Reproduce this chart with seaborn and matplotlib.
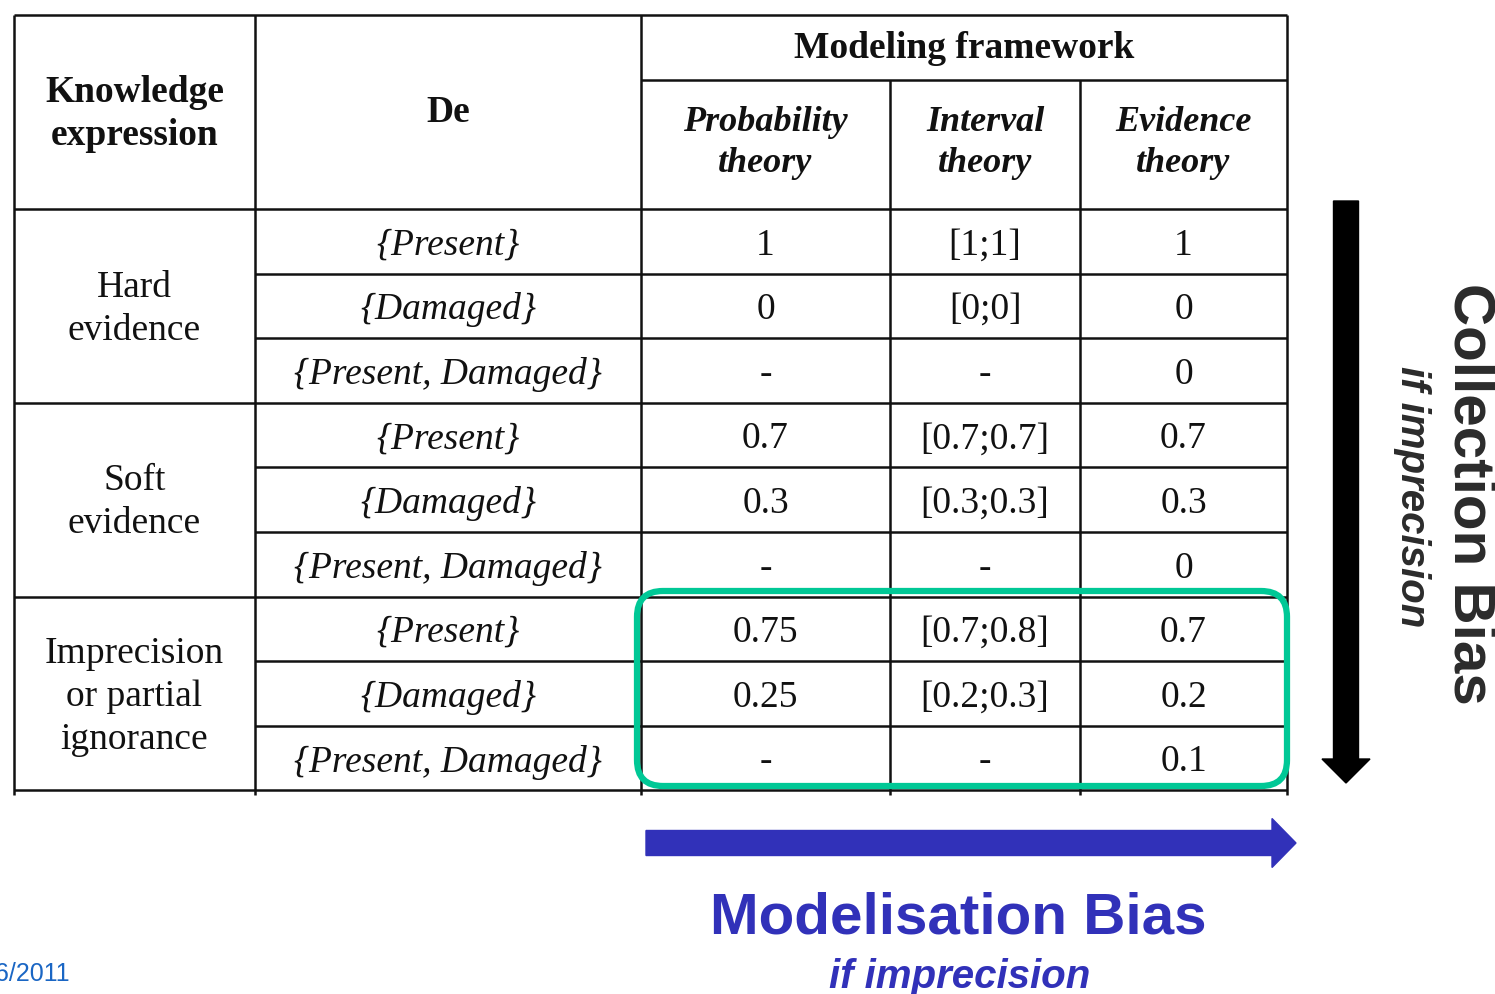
import matplotlib
matplotlib.use("Agg")
import matplotlib.pyplot as plt
from matplotlib.patches import FancyArrow, FancyBboxPatch
import seaborn as sns

# table content
header_left = "Knowledge\nexpression"
header_de = "De"
framework_title = "Modeling framework"
frameworks = ["Probability\ntheory", "Interval\ntheory", "Evidence\ntheory"]
groups = ["Hard\nevidence", "Soft\nevidence", "Imprecision\nor partial\nignorance"]
focal_sets = ["{Present}", "{Damaged}", "{Present, Damaged}"] * 3
prob = ["1", "0", "-", "0.7", "0.3", "-", "0.75", "0.25", "-"]
interval = ["[1;1]", "[0;0]", "-", "[0.7;0.7]", "[0.3;0.3]", "-", "[0.7;0.8]", "[0.2;0.3]", "-"]
evidence = ["1", "0", "0", "0.7", "0.3", "0", "0.7", "0.2", "0.1"]

# layout (pixels)
col_edges = [14, 255, 641, 890, 1080, 1287]
header_top, header_mid, header_bot = 15, 80, 209
row_h = 64.6

sns.set_theme(style="white")
serif = ["Liberation Serif", "DejaVu Serif"]
sans = ["Liberation Sans", "DejaVu Sans"]

fig = plt.figure(figsize=(14.95, 9.94), dpi=100)
ax = fig.add_axes([0, 0, 1, 1])
ax.set_xlim(0, 1495)
ax.set_ylim(994, 0)
ax.axis("off")

n = len(focal_sets)
row_edges = [header_bot + i * row_h for i in range(n + 1)]
table_bot = row_edges[-1]
lw = 1.8
tc = "#111111"

# outer frame and header lines
ax.hlines(header_top, col_edges[0], col_edges[-1], color=tc, lw=lw)
ax.hlines(header_mid, col_edges[2], col_edges[-1], color=tc, lw=lw)
ax.vlines([col_edges[0], col_edges[1], col_edges[2], col_edges[-1]], header_top, table_bot + 5, color=tc, lw=lw)
ax.vlines([col_edges[3], col_edges[4]], header_mid, table_bot + 5, color=tc, lw=lw)
for i, y in enumerate(row_edges):
    x0 = col_edges[0] if i % 3 == 0 else col_edges[1]
    ax.hlines(y, x0, col_edges[-1], color=tc, lw=lw)

fs = 27
ls = 1.32
ax.text((col_edges[0] + col_edges[1]) / 2, 114, header_left, ha="center", va="center",
        fontsize=fs, fontweight="bold", family=serif, color=tc, linespacing=ls)
ax.text((col_edges[1] + col_edges[2]) / 2, 113, header_de, ha="center", va="center",
        fontsize=fs, fontweight="bold", family=serif, color=tc)
ax.text((col_edges[2] + col_edges[-1]) / 2, 48, framework_title, ha="center", va="center",
        fontsize=fs, fontweight="bold", family=serif, color=tc)
for j, name in enumerate(frameworks):
    cx = (col_edges[2 + j] + col_edges[3 + j]) / 2
    ax.text(cx, 143, name, ha="center", va="center", fontsize=fs - 1, fontweight="bold",
            fontstyle="italic", family=serif, color=tc, linespacing=ls)

for g, name in enumerate(groups):
    cy = (row_edges[3 * g] + row_edges[3 * g + 3]) / 2
    ax.text((col_edges[0] + col_edges[1]) / 2, cy + 3, name, ha="center", va="center",
            fontsize=fs, family=serif, color=tc, linespacing=ls)

for i in range(n):
    cy = (row_edges[i] + row_edges[i + 1]) / 2
    ax.text((col_edges[1] + col_edges[2]) / 2, cy, focal_sets[i], ha="center", va="center_baseline",
            fontsize=fs, fontstyle="italic", family=serif, color=tc)
    for j, vals in enumerate([prob, interval, evidence]):
        cx = (col_edges[2 + j] + col_edges[3 + j]) / 2
        ax.text(cx, cy, vals[i], ha="center", va="center_baseline", fontsize=fs, family=serif, color=tc)

# highlight box around imprecision values
green = "#00c896"
ax.add_patch(FancyBboxPatch((637, 591), 650, 195, boxstyle="round,pad=0,rounding_size=26",
                            fill=False, edgecolor=green, lw=4.5, zorder=5))

# collection bias arrow and labels
ax.add_patch(FancyArrow(1346, 201, 0, 582, width=25, head_width=48, head_length=24,
                        length_includes_head=True, color="black"))
ax.text(1470, 494, "Collection Bias", rotation=-90, ha="center", va="center", fontsize=42,
        fontweight="bold", family=sans, color="#2b2b2b")
ax.text(1412, 497, "if imprecision", rotation=-90, ha="center", va="center", fontsize=29,
        fontweight="bold", fontstyle="italic", family=sans, color="#2b2b2b")

# modelisation bias arrow and labels
blue = "#3131b9"
ax.add_patch(FancyArrow(646, 843, 650, 0, width=25, head_width=49, head_length=24,
                        length_includes_head=True, color=blue))
ax.text(958, 919, "Modelisation Bias", ha="center", va="center", fontsize=42,
        fontweight="bold", family=sans, color=blue)
ax.text(960, 977, "if imprecision", ha="center", va="center", fontsize=29,
        fontweight="bold", fontstyle="italic", family=sans, color=blue)

# date footer, partly cut off at the left edge as in the slide
ax.text(70, 974, "06/2011", ha="right", va="center", fontsize=18, family=sans, color="#1a66c4")

fig.savefig("out.png", dpi=100)
